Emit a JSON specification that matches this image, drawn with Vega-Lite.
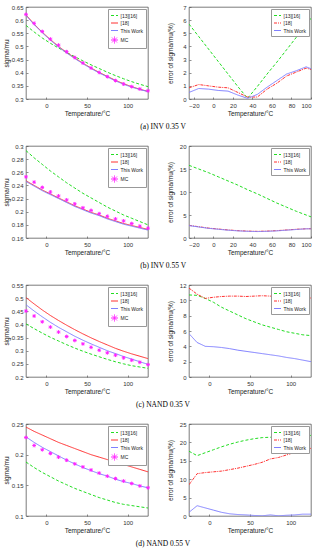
{
"$schema":"https://vega.github.io/schema/vega-lite/v6.json",
"padding":{"left":2,"top":3,"right":2,"bottom":0},
"config":{
 "font":"Liberation Sans",
 "view":{"stroke":"#444","strokeWidth":0.7},
 "axis":{"labelFontSize":6,"titleFontSize":6.5,"titleFontWeight":"normal","labelColor":"#333","titleColor":"#222","ticks":true,"tickSize":-2,"tickColor":"#444","tickWidth":0.6,"domain":false,"grid":false,"labelPadding":5,"titlePadding":2},
 "legend":{"orient":"top-right","offset":2,"labelFontSize":5,"labelFont":"Liberation Sans","labelColor":"#222","symbolType":"stroke","symbolStrokeWidth":1,"rowPadding":0.5,"padding":2.5,"strokeColor":"#999","fillColor":"#fff","labelOffset":2,"symbolSize":49},
 "title":{"font":"Liberation Serif","fontSize":7.5,"fontWeight":"normal","color":"#000","offset":6}
},
"datasets":{
"a_l":[
{"T":-25,"s":"[13][16]","v":0.580},{"T":-15,"s":"[13][16]","v":0.555},{"T":-5,"s":"[13][16]","v":0.532},{"T":5,"s":"[13][16]","v":0.512},{"T":15,"s":"[13][16]","v":0.494},{"T":25,"s":"[13][16]","v":0.477},{"T":35,"s":"[13][16]","v":0.461},{"T":45,"s":"[13][16]","v":0.445},{"T":55,"s":"[13][16]","v":0.430},{"T":65,"s":"[13][16]","v":0.416},{"T":75,"s":"[13][16]","v":0.402},{"T":85,"s":"[13][16]","v":0.389},{"T":95,"s":"[13][16]","v":0.377},{"T":105,"s":"[13][16]","v":0.366},{"T":115,"s":"[13][16]","v":0.356},{"T":125,"s":"[13][16]","v":0.347},
{"T":-25,"s":"[18]","v":0.620},{"T":-15,"s":"[18]","v":0.585},{"T":-5,"s":"[18]","v":0.554},{"T":5,"s":"[18]","v":0.526},{"T":15,"s":"[18]","v":0.500},{"T":25,"s":"[18]","v":0.477},{"T":35,"s":"[18]","v":0.456},{"T":45,"s":"[18]","v":0.436},{"T":55,"s":"[18]","v":0.418},{"T":65,"s":"[18]","v":0.401},{"T":75,"s":"[18]","v":0.386},{"T":85,"s":"[18]","v":0.371},{"T":95,"s":"[18]","v":0.358},{"T":105,"s":"[18]","v":0.347},{"T":115,"s":"[18]","v":0.337},{"T":125,"s":"[18]","v":0.329},
{"T":-25,"s":"This Work","v":0.618},{"T":-15,"s":"This Work","v":0.583},{"T":-5,"s":"This Work","v":0.552},{"T":5,"s":"This Work","v":0.524},{"T":15,"s":"This Work","v":0.498},{"T":25,"s":"This Work","v":0.475},{"T":35,"s":"This Work","v":0.454},{"T":45,"s":"This Work","v":0.434},{"T":55,"s":"This Work","v":0.416},{"T":65,"s":"This Work","v":0.399},{"T":75,"s":"This Work","v":0.384},{"T":85,"s":"This Work","v":0.369},{"T":95,"s":"This Work","v":0.356},{"T":105,"s":"This Work","v":0.345},{"T":115,"s":"This Work","v":0.336},{"T":125,"s":"This Work","v":0.328},
{"T":-25,"s":"MC","v":0.622},{"T":-15,"s":"MC","v":0.588},{"T":-5,"s":"MC","v":0.557},{"T":5,"s":"MC","v":0.528},{"T":15,"s":"MC","v":0.505},{"T":25,"s":"MC","v":0.480},{"T":35,"s":"MC","v":0.458},{"T":45,"s":"MC","v":0.437},{"T":55,"s":"MC","v":0.418},{"T":65,"s":"MC","v":0.401},{"T":75,"s":"MC","v":0.385},{"T":85,"s":"MC","v":0.370},{"T":95,"s":"MC","v":0.357},{"T":105,"s":"MC","v":0.347},{"T":115,"s":"MC","v":0.338},{"T":125,"s":"MC","v":0.331}
],
"a_r":[
{"T":-25,"s":"[13][16]","v":5.7},{"T":-15,"s":"[13][16]","v":4.75},{"T":-5,"s":"[13][16]","v":3.8},{"T":5,"s":"[13][16]","v":2.85},{"T":15,"s":"[13][16]","v":1.9},{"T":25,"s":"[13][16]","v":0.95},{"T":35,"s":"[13][16]","v":0.05},{"T":45,"s":"[13][16]","v":0.95},{"T":55,"s":"[13][16]","v":1.9},{"T":65,"s":"[13][16]","v":2.8},{"T":75,"s":"[13][16]","v":3.75},{"T":85,"s":"[13][16]","v":4.7},{"T":95,"s":"[13][16]","v":5.65},{"T":105,"s":"[13][16]","v":6.6},
{"T":-25,"s":"[18]","v":0.85},{"T":-15,"s":"[18]","v":1.1},{"T":-5,"s":"[18]","v":1.0},{"T":5,"s":"[18]","v":0.9},{"T":15,"s":"[18]","v":0.85},{"T":25,"s":"[18]","v":0.5},{"T":35,"s":"[18]","v":0.15},{"T":45,"s":"[18]","v":0.15},{"T":55,"s":"[18]","v":0.75},{"T":65,"s":"[18]","v":1.2},{"T":75,"s":"[18]","v":1.75},{"T":85,"s":"[18]","v":2.05},{"T":95,"s":"[18]","v":2.35},{"T":105,"s":"[18]","v":2.15},
{"T":-25,"s":"This Work","v":0.5},{"T":-15,"s":"This Work","v":0.8},{"T":-5,"s":"This Work","v":0.75},{"T":5,"s":"This Work","v":0.65},{"T":15,"s":"This Work","v":0.6},{"T":25,"s":"This Work","v":0.3},{"T":35,"s":"This Work","v":0.05},{"T":45,"s":"This Work","v":0.35},{"T":55,"s":"This Work","v":0.9},{"T":65,"s":"This Work","v":1.4},{"T":75,"s":"This Work","v":1.9},{"T":85,"s":"This Work","v":2.15},{"T":95,"s":"This Work","v":2.45},{"T":105,"s":"This Work","v":2.15}
],
"b_l":[
{"T":-25,"s":"[13][16]","v":0.293},{"T":-15,"s":"[13][16]","v":0.282},{"T":-5,"s":"[13][16]","v":0.272},{"T":5,"s":"[13][16]","v":0.262},{"T":15,"s":"[13][16]","v":0.253},{"T":25,"s":"[13][16]","v":0.244},{"T":35,"s":"[13][16]","v":0.236},{"T":45,"s":"[13][16]","v":0.228},{"T":55,"s":"[13][16]","v":0.221},{"T":65,"s":"[13][16]","v":0.214},{"T":75,"s":"[13][16]","v":0.207},{"T":85,"s":"[13][16]","v":0.201},{"T":95,"s":"[13][16]","v":0.195},{"T":105,"s":"[13][16]","v":0.190},{"T":115,"s":"[13][16]","v":0.185},{"T":125,"s":"[13][16]","v":0.180},
{"T":-25,"s":"[18]","v":0.247},{"T":-15,"s":"[18]","v":0.240},{"T":-5,"s":"[18]","v":0.233},{"T":5,"s":"[18]","v":0.227},{"T":15,"s":"[18]","v":0.221},{"T":25,"s":"[18]","v":0.215},{"T":35,"s":"[18]","v":0.209},{"T":45,"s":"[18]","v":0.204},{"T":55,"s":"[18]","v":0.199},{"T":65,"s":"[18]","v":0.195},{"T":75,"s":"[18]","v":0.190},{"T":85,"s":"[18]","v":0.186},{"T":95,"s":"[18]","v":0.182},{"T":105,"s":"[18]","v":0.179},{"T":115,"s":"[18]","v":0.176},{"T":125,"s":"[18]","v":0.173},
{"T":-25,"s":"This Work","v":0.246},{"T":-15,"s":"This Work","v":0.239},{"T":-5,"s":"This Work","v":0.232},{"T":5,"s":"This Work","v":0.226},{"T":15,"s":"This Work","v":0.220},{"T":25,"s":"This Work","v":0.214},{"T":35,"s":"This Work","v":0.208},{"T":45,"s":"This Work","v":0.203},{"T":55,"s":"This Work","v":0.198},{"T":65,"s":"This Work","v":0.194},{"T":75,"s":"This Work","v":0.189},{"T":85,"s":"This Work","v":0.185},{"T":95,"s":"This Work","v":0.181},{"T":105,"s":"This Work","v":0.178},{"T":115,"s":"This Work","v":0.175},{"T":125,"s":"This Work","v":0.172},
{"T":-25,"s":"MC","v":0.253},{"T":-15,"s":"MC","v":0.245},{"T":-5,"s":"MC","v":0.237},{"T":5,"s":"MC","v":0.230},{"T":15,"s":"MC","v":0.224},{"T":25,"s":"MC","v":0.218},{"T":35,"s":"MC","v":0.212},{"T":45,"s":"MC","v":0.206},{"T":55,"s":"MC","v":0.202},{"T":65,"s":"MC","v":0.197},{"T":75,"s":"MC","v":0.193},{"T":85,"s":"MC","v":0.189},{"T":95,"s":"MC","v":0.186},{"T":105,"s":"MC","v":0.182},{"T":115,"s":"MC","v":0.178},{"T":125,"s":"MC","v":0.175}
],
"b_r":[
{"T":-25,"s":"[13][16]","v":15.8},{"T":-15,"s":"[13][16]","v":15.0},{"T":-5,"s":"[13][16]","v":14.2},{"T":5,"s":"[13][16]","v":13.3},{"T":15,"s":"[13][16]","v":12.4},{"T":25,"s":"[13][16]","v":11.5},{"T":35,"s":"[13][16]","v":10.5},{"T":45,"s":"[13][16]","v":9.6},{"T":55,"s":"[13][16]","v":8.6},{"T":65,"s":"[13][16]","v":7.6},{"T":75,"s":"[13][16]","v":6.7},{"T":85,"s":"[13][16]","v":5.8},{"T":95,"s":"[13][16]","v":5.0},{"T":105,"s":"[13][16]","v":4.2},
{"T":-25,"s":"[18]","v":2.75},{"T":-15,"s":"[18]","v":2.45},{"T":-5,"s":"[18]","v":2.15},{"T":5,"s":"[18]","v":1.95},{"T":15,"s":"[18]","v":1.75},{"T":25,"s":"[18]","v":1.6},{"T":35,"s":"[18]","v":1.5},{"T":45,"s":"[18]","v":1.45},{"T":55,"s":"[18]","v":1.5},{"T":65,"s":"[18]","v":1.6},{"T":75,"s":"[18]","v":1.75},{"T":85,"s":"[18]","v":1.9},{"T":95,"s":"[18]","v":2.0},{"T":105,"s":"[18]","v":2.05},
{"T":-25,"s":"This Work","v":2.7},{"T":-15,"s":"This Work","v":2.4},{"T":-5,"s":"This Work","v":2.1},{"T":5,"s":"This Work","v":1.9},{"T":15,"s":"This Work","v":1.7},{"T":25,"s":"This Work","v":1.55},{"T":35,"s":"This Work","v":1.45},{"T":45,"s":"This Work","v":1.4},{"T":55,"s":"This Work","v":1.45},{"T":65,"s":"This Work","v":1.55},{"T":75,"s":"This Work","v":1.7},{"T":85,"s":"This Work","v":1.85},{"T":95,"s":"This Work","v":2.0},{"T":105,"s":"This Work","v":2.0}
],
"c_l":[
{"T":-25,"s":"[13][16]","v":0.402},{"T":-15,"s":"[13][16]","v":0.384},{"T":-5,"s":"[13][16]","v":0.367},{"T":5,"s":"[13][16]","v":0.351},{"T":15,"s":"[13][16]","v":0.337},{"T":25,"s":"[13][16]","v":0.323},{"T":35,"s":"[13][16]","v":0.310},{"T":45,"s":"[13][16]","v":0.298},{"T":55,"s":"[13][16]","v":0.287},{"T":65,"s":"[13][16]","v":0.277},{"T":75,"s":"[13][16]","v":0.267},{"T":85,"s":"[13][16]","v":0.258},{"T":95,"s":"[13][16]","v":0.250},{"T":105,"s":"[13][16]","v":0.243},{"T":115,"s":"[13][16]","v":0.238},{"T":125,"s":"[13][16]","v":0.233},
{"T":-25,"s":"[18]","v":0.502},{"T":-15,"s":"[18]","v":0.478},{"T":-5,"s":"[18]","v":0.455},{"T":5,"s":"[18]","v":0.434},{"T":15,"s":"[18]","v":0.415},{"T":25,"s":"[18]","v":0.397},{"T":35,"s":"[18]","v":0.380},{"T":45,"s":"[18]","v":0.364},{"T":55,"s":"[18]","v":0.349},{"T":65,"s":"[18]","v":0.335},{"T":75,"s":"[18]","v":0.322},{"T":85,"s":"[18]","v":0.309},{"T":95,"s":"[18]","v":0.298},{"T":105,"s":"[18]","v":0.288},{"T":115,"s":"[18]","v":0.279},{"T":125,"s":"[18]","v":0.270},
{"T":-25,"s":"This Work","v":0.475},{"T":-15,"s":"This Work","v":0.451},{"T":-5,"s":"This Work","v":0.429},{"T":5,"s":"This Work","v":0.408},{"T":15,"s":"This Work","v":0.389},{"T":25,"s":"This Work","v":0.372},{"T":35,"s":"This Work","v":0.355},{"T":45,"s":"This Work","v":0.340},{"T":55,"s":"This Work","v":0.326},{"T":65,"s":"This Work","v":0.313},{"T":75,"s":"This Work","v":0.300},{"T":85,"s":"This Work","v":0.289},{"T":95,"s":"This Work","v":0.278},{"T":105,"s":"This Work","v":0.268},{"T":115,"s":"This Work","v":0.258},{"T":125,"s":"This Work","v":0.248},
{"T":-25,"s":"MC","v":0.451},{"T":-15,"s":"MC","v":0.432},{"T":-5,"s":"MC","v":0.410},{"T":5,"s":"MC","v":0.390},{"T":15,"s":"MC","v":0.371},{"T":25,"s":"MC","v":0.354},{"T":35,"s":"MC","v":0.339},{"T":45,"s":"MC","v":0.326},{"T":55,"s":"MC","v":0.313},{"T":65,"s":"MC","v":0.302},{"T":75,"s":"MC","v":0.292},{"T":85,"s":"MC","v":0.283},{"T":95,"s":"MC","v":0.273},{"T":105,"s":"MC","v":0.264},{"T":115,"s":"MC","v":0.256},{"T":125,"s":"MC","v":0.247}
],
"c_r":[
{"T":-25,"s":"[13][16]","v":10.7},{"T":-15,"s":"[13][16]","v":10.65},{"T":-5,"s":"[13][16]","v":10.25},{"T":5,"s":"[13][16]","v":9.75},{"T":15,"s":"[13][16]","v":9.1},{"T":25,"s":"[13][16]","v":8.6},{"T":35,"s":"[13][16]","v":8.1},{"T":45,"s":"[13][16]","v":7.6},{"T":55,"s":"[13][16]","v":7.2},{"T":65,"s":"[13][16]","v":6.8},{"T":75,"s":"[13][16]","v":6.5},{"T":85,"s":"[13][16]","v":6.2},{"T":95,"s":"[13][16]","v":5.9},{"T":105,"s":"[13][16]","v":5.7},{"T":115,"s":"[13][16]","v":5.5},{"T":125,"s":"[13][16]","v":5.4},
{"T":-25,"s":"[18]","v":11.6},{"T":-15,"s":"[18]","v":10.8},{"T":-5,"s":"[18]","v":10.25},{"T":5,"s":"[18]","v":10.4},{"T":15,"s":"[18]","v":10.5},{"T":25,"s":"[18]","v":10.55},{"T":35,"s":"[18]","v":10.55},{"T":45,"s":"[18]","v":10.5},{"T":55,"s":"[18]","v":10.55},{"T":65,"s":"[18]","v":10.6},{"T":75,"s":"[18]","v":10.55},{"T":85,"s":"[18]","v":10.5},{"T":95,"s":"[18]","v":10.4},{"T":105,"s":"[18]","v":10.4},{"T":115,"s":"[18]","v":10.35},{"T":125,"s":"[18]","v":10.3},
{"T":-25,"s":"This Work","v":5.65},{"T":-15,"s":"This Work","v":4.5},{"T":-5,"s":"This Work","v":4.0},{"T":5,"s":"This Work","v":3.95},{"T":15,"s":"This Work","v":3.85},{"T":25,"s":"This Work","v":3.7},{"T":35,"s":"This Work","v":3.5},{"T":45,"s":"This Work","v":3.35},{"T":55,"s":"This Work","v":3.2},{"T":65,"s":"This Work","v":3.05},{"T":75,"s":"This Work","v":2.9},{"T":85,"s":"This Work","v":2.75},{"T":95,"s":"This Work","v":2.55},{"T":105,"s":"This Work","v":2.4},{"T":115,"s":"This Work","v":2.2},{"T":125,"s":"This Work","v":2.0}
],
"d_l":[
{"T":-25,"s":"[13][16]","v":0.188},{"T":-15,"s":"[13][16]","v":0.179},{"T":-5,"s":"[13][16]","v":0.171},{"T":5,"s":"[13][16]","v":0.164},{"T":15,"s":"[13][16]","v":0.157},{"T":25,"s":"[13][16]","v":0.151},{"T":35,"s":"[13][16]","v":0.145},{"T":45,"s":"[13][16]","v":0.140},{"T":55,"s":"[13][16]","v":0.135},{"T":65,"s":"[13][16]","v":0.130},{"T":75,"s":"[13][16]","v":0.126},{"T":85,"s":"[13][16]","v":0.122},{"T":95,"s":"[13][16]","v":0.119},{"T":105,"s":"[13][16]","v":0.117},{"T":115,"s":"[13][16]","v":0.115},{"T":125,"s":"[13][16]","v":0.113},
{"T":-25,"s":"[18]","v":0.245},{"T":-15,"s":"[18]","v":0.238},{"T":-5,"s":"[18]","v":0.232},{"T":5,"s":"[18]","v":0.226},{"T":15,"s":"[18]","v":0.220},{"T":25,"s":"[18]","v":0.215},{"T":35,"s":"[18]","v":0.210},{"T":45,"s":"[18]","v":0.205},{"T":55,"s":"[18]","v":0.200},{"T":65,"s":"[18]","v":0.196},{"T":75,"s":"[18]","v":0.192},{"T":85,"s":"[18]","v":0.188},{"T":95,"s":"[18]","v":0.184},{"T":105,"s":"[18]","v":0.180},{"T":115,"s":"[18]","v":0.176},{"T":125,"s":"[18]","v":0.172},
{"T":-25,"s":"This Work","v":0.229},{"T":-15,"s":"This Work","v":0.220},{"T":-5,"s":"This Work","v":0.212},{"T":5,"s":"This Work","v":0.205},{"T":15,"s":"This Work","v":0.198},{"T":25,"s":"This Work","v":0.191},{"T":35,"s":"This Work","v":0.185},{"T":45,"s":"This Work","v":0.179},{"T":55,"s":"This Work","v":0.174},{"T":65,"s":"This Work","v":0.169},{"T":75,"s":"This Work","v":0.165},{"T":85,"s":"This Work","v":0.160},{"T":95,"s":"This Work","v":0.156},{"T":105,"s":"This Work","v":0.153},{"T":115,"s":"This Work","v":0.149},{"T":125,"s":"This Work","v":0.146},
{"T":-25,"s":"MC","v":0.228},{"T":-15,"s":"MC","v":0.215},{"T":-5,"s":"MC","v":0.208},{"T":5,"s":"MC","v":0.202},{"T":15,"s":"MC","v":0.196},{"T":25,"s":"MC","v":0.191},{"T":35,"s":"MC","v":0.185},{"T":45,"s":"MC","v":0.180},{"T":55,"s":"MC","v":0.175},{"T":65,"s":"MC","v":0.170},{"T":75,"s":"MC","v":0.165},{"T":85,"s":"MC","v":0.161},{"T":95,"s":"MC","v":0.157},{"T":105,"s":"MC","v":0.153},{"T":115,"s":"MC","v":0.149},{"T":125,"s":"MC","v":0.146}
],
"d_r":[
{"T":-25,"s":"[13][16]","v":17.6},{"T":-15,"s":"[13][16]","v":16.4},{"T":-5,"s":"[13][16]","v":17.2},{"T":5,"s":"[13][16]","v":18.0},{"T":15,"s":"[13][16]","v":18.8},{"T":25,"s":"[13][16]","v":19.5},{"T":35,"s":"[13][16]","v":20.1},{"T":45,"s":"[13][16]","v":20.6},{"T":55,"s":"[13][16]","v":21.0},{"T":65,"s":"[13][16]","v":21.3},{"T":75,"s":"[13][16]","v":21.4},{"T":85,"s":"[13][16]","v":21.5},{"T":95,"s":"[13][16]","v":21.6},{"T":105,"s":"[13][16]","v":21.7},{"T":115,"s":"[13][16]","v":21.8},{"T":125,"s":"[13][16]","v":21.9},
{"T":-25,"s":"[18]","v":8.5},{"T":-15,"s":"[18]","v":11.5},{"T":-5,"s":"[18]","v":11.8},{"T":5,"s":"[18]","v":12.0},{"T":15,"s":"[18]","v":12.2},{"T":25,"s":"[18]","v":12.6},{"T":35,"s":"[18]","v":13.0},{"T":45,"s":"[18]","v":13.5},{"T":55,"s":"[18]","v":14.0},{"T":65,"s":"[18]","v":14.6},{"T":75,"s":"[18]","v":15.5},{"T":85,"s":"[18]","v":15.9},{"T":95,"s":"[18]","v":16.6},{"T":105,"s":"[18]","v":17.3},{"T":115,"s":"[18]","v":17.9},{"T":125,"s":"[18]","v":18.4},
{"T":-25,"s":"This Work","v":1.0},{"T":-15,"s":"This Work","v":2.8},{"T":-5,"s":"This Work","v":2.2},{"T":5,"s":"This Work","v":1.6},{"T":15,"s":"This Work","v":1.0},{"T":25,"s":"This Work","v":0.6},{"T":35,"s":"This Work","v":0.4},{"T":45,"s":"This Work","v":0.3},{"T":55,"s":"This Work","v":0.15},{"T":65,"s":"This Work","v":0.05},{"T":75,"s":"This Work","v":0.3},{"T":85,"s":"This Work","v":0.05},{"T":95,"s":"This Work","v":0.2},{"T":105,"s":"This Work","v":0.3},{"T":115,"s":"This Work","v":0.5},{"T":125,"s":"This Work","v":0.5}
]
},
"spacing":11,
"resolve":{"scale":{"color":"independent","strokeDash":"independent","shape":"independent"},"legend":{"color":"independent","strokeDash":"independent","shape":"independent"}},
"vconcat":[
{"title":{"text":"(a) INV 0.35 V","orient":"bottom","anchor":"middle","dx":6},"spacing":13,
 "resolve":{"scale":{"color":"independent","strokeDash":"independent","shape":"independent"},"legend":{"color":"independent","strokeDash":"independent","shape":"independent"}},
 "hconcat":[
 {"width":122,"height":92,"data":{"name":"a_l"},
  "encoding":{
   "x":{"field":"T","type":"quantitative","scale":{"domain":[-25,125],"nice":false},"axis":{"values":[0,50,100],"title":"Temperature/°C"}},
   "y":{"field":"v","type":"quantitative","scale":{"domain":[0.3,0.65],"nice":false,"zero":false},"axis":{"values":[0.3,0.35,0.4,0.45,0.5,0.55,0.6,0.65],"format":"~g","title":"sigma/mu","minExtent":15,"maxExtent":15}},
   "color":{"field":"s","type":"nominal","title":null,"scale":{"domain":["[13][16]","[18]","This Work","MC"],"range":["#22dd22","#ff3030","#8080ff","#ff22ff"]}}
  },
  "layer":[
   {"transform":[{"filter":"datum.s != 'MC'"}],"mark":{"type":"line","clip":true,"strokeWidth":1},"encoding":{"strokeDash":{"field":"s","type":"nominal","title":null,"scale":{"domain":["[13][16]","[18]","This Work","MC"],"range":[[3,2],[1,0],[1,0],[1,0]]}}}},
   {"transform":[{"filter":"datum.s == 'MC'"}],"mark":{"type":"point","filled":false,"size":14,"strokeWidth":1,"opacity":1},"encoding":{"shape":{"field":"s","type":"nominal","title":null,"scale":{"domain":["[13][16]","[18]","This Work","MC"],"range":["stroke","stroke","stroke","M-1,0L1,0M0,-1L0,1M-0.7,-0.7L0.7,0.7M-0.7,0.7L0.7,-0.7"]}}}}
  ]},
 {"width":122,"height":92,"data":{"name":"a_r"},
  "encoding":{
   "x":{"field":"T","type":"quantitative","scale":{"domain":[-25,100],"nice":false},"axis":{"values":[-20,0,20,40,60,80,100],"title":"Temperature/°C"}},
   "y":{"field":"v","type":"quantitative","scale":{"domain":[0,7],"nice":false,"zero":false},"axis":{"values":[0,1,2,3,4,5,6,7],"title":"error of sigma/mu(%)","minExtent":14,"maxExtent":14}},
   "color":{"field":"s","type":"nominal","title":null,"scale":{"domain":["[13][16]","[18]","This Work"],"range":["#22dd22","#ff3030","#8080ff"]}},
   "strokeDash":{"field":"s","type":"nominal","title":null,"scale":{"domain":["[13][16]","[18]","This Work"],"range":[[3,2],[3,1,1,1],[1,0]]}}
  },
  "mark":{"type":"line","clip":true,"strokeWidth":1}}
 ]},
{"title":{"text":"(b) INV 0.55 V","orient":"bottom","anchor":"middle","dx":6},"spacing":13,
 "resolve":{"scale":{"color":"independent","strokeDash":"independent","shape":"independent"},"legend":{"color":"independent","strokeDash":"independent","shape":"independent"}},
 "hconcat":[
 {"width":122,"height":92,"data":{"name":"b_l"},
  "encoding":{
   "x":{"field":"T","type":"quantitative","scale":{"domain":[-25,125],"nice":false},"axis":{"values":[0,50,100],"title":"Temperature/°C"}},
   "y":{"field":"v","type":"quantitative","scale":{"domain":[0.16,0.3],"nice":false,"zero":false},"axis":{"values":[0.16,0.18,0.2,0.22,0.24,0.26,0.28,0.3],"format":"~g","title":"sigma/mu","minExtent":15,"maxExtent":15}},
   "color":{"field":"s","type":"nominal","title":null,"scale":{"domain":["[13][16]","[18]","This Work","MC"],"range":["#22dd22","#ff3030","#8080ff","#ff22ff"]}}
  },
  "layer":[
   {"transform":[{"filter":"datum.s != 'MC'"}],"mark":{"type":"line","clip":true,"strokeWidth":1},"encoding":{"strokeDash":{"field":"s","type":"nominal","title":null,"scale":{"domain":["[13][16]","[18]","This Work","MC"],"range":[[3,2],[1,0],[1,0],[1,0]]}}}},
   {"transform":[{"filter":"datum.s == 'MC'"}],"mark":{"type":"point","filled":false,"size":14,"strokeWidth":1,"opacity":1},"encoding":{"shape":{"field":"s","type":"nominal","title":null,"scale":{"domain":["[13][16]","[18]","This Work","MC"],"range":["stroke","stroke","stroke","M-1,0L1,0M0,-1L0,1M-0.7,-0.7L0.7,0.7M-0.7,0.7L0.7,-0.7"]}}}}
  ]},
 {"width":122,"height":92,"data":{"name":"b_r"},
  "encoding":{
   "x":{"field":"T","type":"quantitative","scale":{"domain":[-25,100],"nice":false},"axis":{"values":[-20,0,20,40,60,80,100],"title":"Temperature/°C"}},
   "y":{"field":"v","type":"quantitative","scale":{"domain":[0,20],"nice":false,"zero":false},"axis":{"values":[0,5,10,15,20],"title":"error of sigma/mu(%)","minExtent":14,"maxExtent":14}},
   "color":{"field":"s","type":"nominal","title":null,"scale":{"domain":["[13][16]","[18]","This Work"],"range":["#22dd22","#ff3030","#8080ff"]}},
   "strokeDash":{"field":"s","type":"nominal","title":null,"scale":{"domain":["[13][16]","[18]","This Work"],"range":[[3,2],[3,1,1,1],[1,0]]}}
  },
  "mark":{"type":"line","clip":true,"strokeWidth":1}}
 ]},
{"title":{"text":"(c) NAND 0.35 V","orient":"bottom","anchor":"middle","dx":6},"spacing":13,
 "resolve":{"scale":{"color":"independent","strokeDash":"independent","shape":"independent"},"legend":{"color":"independent","strokeDash":"independent","shape":"independent"}},
 "hconcat":[
 {"width":122,"height":92,"data":{"name":"c_l"},
  "encoding":{
   "x":{"field":"T","type":"quantitative","scale":{"domain":[-25,125],"nice":false},"axis":{"values":[0,50,100],"title":"Temperature/°C"}},
   "y":{"field":"v","type":"quantitative","scale":{"domain":[0.2,0.55],"nice":false,"zero":false},"axis":{"values":[0.2,0.25,0.3,0.35,0.4,0.45,0.5,0.55],"format":"~g","title":"sigma/mu","minExtent":15,"maxExtent":15}},
   "color":{"field":"s","type":"nominal","title":null,"scale":{"domain":["[13][16]","[18]","This Work","MC"],"range":["#22dd22","#ff3030","#8080ff","#ff22ff"]}}
  },
  "layer":[
   {"transform":[{"filter":"datum.s != 'MC'"}],"mark":{"type":"line","clip":true,"strokeWidth":1},"encoding":{"strokeDash":{"field":"s","type":"nominal","title":null,"scale":{"domain":["[13][16]","[18]","This Work","MC"],"range":[[3,2],[1,0],[1,0],[1,0]]}}}},
   {"transform":[{"filter":"datum.s == 'MC'"}],"mark":{"type":"point","filled":false,"size":14,"strokeWidth":1,"opacity":1},"encoding":{"shape":{"field":"s","type":"nominal","title":null,"scale":{"domain":["[13][16]","[18]","This Work","MC"],"range":["stroke","stroke","stroke","M-1,0L1,0M0,-1L0,1M-0.7,-0.7L0.7,0.7M-0.7,0.7L0.7,-0.7"]}}}}
  ]},
 {"width":122,"height":92,"data":{"name":"c_r"},
  "encoding":{
   "x":{"field":"T","type":"quantitative","scale":{"domain":[-25,125],"nice":false},"axis":{"values":[0,50,100],"title":"Temperature/°C"}},
   "y":{"field":"v","type":"quantitative","scale":{"domain":[0,12],"nice":false,"zero":false},"axis":{"values":[0,2,4,6,8,10,12],"title":"error of sigma/mu(%)","minExtent":14,"maxExtent":14}},
   "color":{"field":"s","type":"nominal","title":null,"scale":{"domain":["[13][16]","[18]","This Work"],"range":["#22dd22","#ff3030","#8080ff"]}},
   "strokeDash":{"field":"s","type":"nominal","title":null,"scale":{"domain":["[13][16]","[18]","This Work"],"range":[[3,2],[3,1,1,1],[1,0]]}}
  },
  "mark":{"type":"line","clip":true,"strokeWidth":1}}
 ]},
{"title":{"text":"(d) NAND 0.55 V","orient":"bottom","anchor":"middle","dx":6},"spacing":13,
 "resolve":{"scale":{"color":"independent","strokeDash":"independent","shape":"independent"},"legend":{"color":"independent","strokeDash":"independent","shape":"independent"}},
 "hconcat":[
 {"width":122,"height":92,"data":{"name":"d_l"},
  "encoding":{
   "x":{"field":"T","type":"quantitative","scale":{"domain":[-25,125],"nice":false},"axis":{"values":[0,50,100],"title":"Temperature/°C"}},
   "y":{"field":"v","type":"quantitative","scale":{"domain":[0.1,0.25],"nice":false,"zero":false},"axis":{"values":[0.1,0.15,0.2,0.25],"format":"~g","title":"sigma/mu","minExtent":15,"maxExtent":15}},
   "color":{"field":"s","type":"nominal","title":null,"scale":{"domain":["[13][16]","[18]","This Work","MC"],"range":["#22dd22","#ff3030","#8080ff","#ff22ff"]}}
  },
  "layer":[
   {"transform":[{"filter":"datum.s != 'MC'"}],"mark":{"type":"line","clip":true,"strokeWidth":1},"encoding":{"strokeDash":{"field":"s","type":"nominal","title":null,"scale":{"domain":["[13][16]","[18]","This Work","MC"],"range":[[3,2],[1,0],[1,0],[1,0]]}}}},
   {"transform":[{"filter":"datum.s == 'MC'"}],"mark":{"type":"point","filled":false,"size":14,"strokeWidth":1,"opacity":1},"encoding":{"shape":{"field":"s","type":"nominal","title":null,"scale":{"domain":["[13][16]","[18]","This Work","MC"],"range":["stroke","stroke","stroke","M-1,0L1,0M0,-1L0,1M-0.7,-0.7L0.7,0.7M-0.7,0.7L0.7,-0.7"]}}}}
  ]},
 {"width":122,"height":92,"data":{"name":"d_r"},
  "encoding":{
   "x":{"field":"T","type":"quantitative","scale":{"domain":[-25,125],"nice":false},"axis":{"values":[0,50,100],"title":"Temperature/°C"}},
   "y":{"field":"v","type":"quantitative","scale":{"domain":[0,25],"nice":false,"zero":false},"axis":{"values":[0,5,10,15,20,25],"title":"error of sigma/mu(%)","minExtent":14,"maxExtent":14}},
   "color":{"field":"s","type":"nominal","title":null,"scale":{"domain":["[13][16]","[18]","This Work"],"range":["#22dd22","#ff3030","#8080ff"]}},
   "strokeDash":{"field":"s","type":"nominal","title":null,"scale":{"domain":["[13][16]","[18]","This Work"],"range":[[3,2],[3,1,1,1],[1,0]]}}
  },
  "mark":{"type":"line","clip":true,"strokeWidth":1}}
 ]}
]
}
